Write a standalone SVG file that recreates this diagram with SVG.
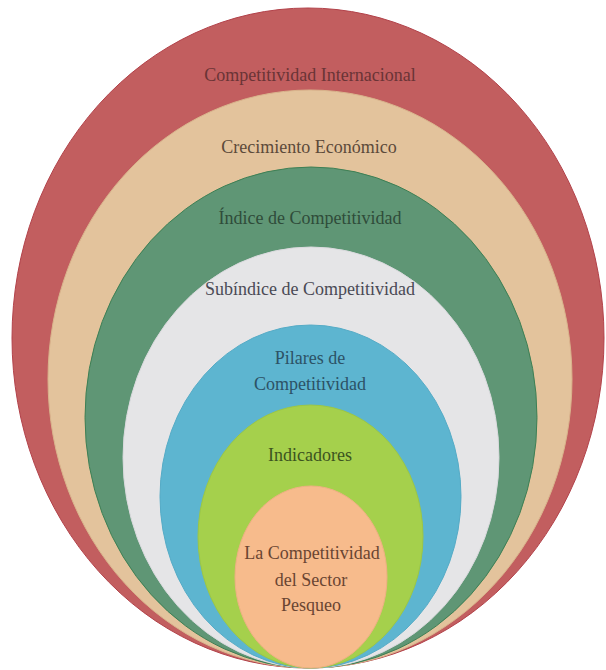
<svg xmlns="http://www.w3.org/2000/svg" width="606" height="670" viewBox="0 0 606 670">
<style>
text{font-family:"Liberation Serif","Times New Roman",serif;font-size:18px;text-anchor:middle;dominant-baseline:central}
.r{fill:#C25E5F;stroke:#B2424A;stroke-width:1}
.t{fill:#E3C39C;stroke:#D9B48C;stroke-width:1}
.g{fill:#5F9675;stroke:#3E7F54;stroke-width:1}
.w{fill:#E5E5E7;stroke:#DADADE;stroke-width:1}
.b{fill:#5DB5D0;stroke:#55ABC6;stroke-width:1}
.y{fill:#A5D04C;stroke:#9CC744;stroke-width:1}
.o{fill:#F7BB8C;stroke:#F0B084;stroke-width:1}
</style>
<rect width="606" height="670" fill="#fff"/>
<g id="n1"><ellipse class="r" cx="308" cy="338" rx="296" ry="330"/><text x="310" y="75" fill="#6A3436">Competitividad Internacional</text></g>
<g id="n2"><ellipse class="t" cx="310" cy="379" rx="262" ry="289"/><text x="309" y="147" fill="#5C4A3A">Crecimiento Económico</text></g>
<g id="n3"><ellipse class="g" cx="311" cy="417.5" rx="226" ry="250.5"/><text x="310" y="218" fill="#2F4C3A">Índice de Competitividad</text></g>
<g id="n4"><ellipse class="w" cx="311" cy="457.5" rx="188" ry="210.5"/><text x="310" y="289" fill="#4A4A55">Subíndice de Competitividad</text></g>
<g id="n5"><ellipse class="b" cx="310.5" cy="496.5" rx="150.5" ry="171.5"/><text x="310" y="358" fill="#2C5266">Pilares de</text><text x="310" y="384" fill="#2C5266">Competitividad</text></g>
<g id="n6"><ellipse class="y" cx="310.5" cy="536.5" rx="112.5" ry="131.5"/><text x="310" y="455" fill="#3C5420">Indicadores</text></g>
<g id="n7"><ellipse class="o" cx="311" cy="577" rx="76" ry="91"/><text x="312" y="553" fill="#6A4532">La Competitividad</text><text x="311" y="580" fill="#6A4532">del Sector</text><text x="311" y="605" fill="#6A4532">Pesqueo</text></g>
<g id="connectors"></g>
</svg>
